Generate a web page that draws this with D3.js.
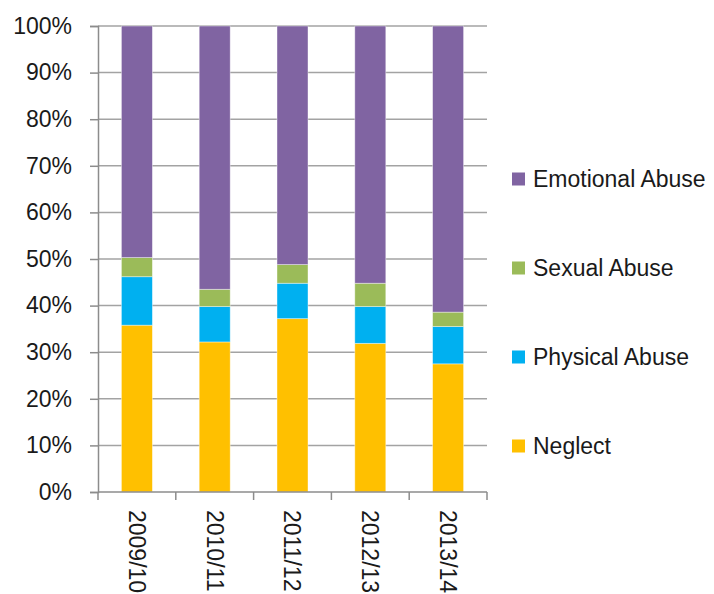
<!DOCTYPE html>
<html>
<head>
<meta charset="utf-8">
<script src="https://cdn.jsdelivr.net/npm/d3@7/dist/d3.min.js"></script>
<style>
  html, body { margin: 0; padding: 0; background: #fff; }
  svg { display: block; font-family: "Liberation Sans", Arial, sans-serif; }
</style>
</head>
<body>
<svg id="chart" width="714" height="594"></svg>
<script>
// Reporting years
const years = ["2009/10", "2010/11", "2011/12", "2012/13", "2013/14"];

// Share of cases by category (percent), stacked bottom to top
const neglect   = [35.8, 32.2, 37.2, 31.9, 27.5];
const physical  = [10.4,  7.6,  7.6,  7.9,  8.0];
const sexual    = [ 4.1,  3.7,  4.0,  5.0,  3.1];
const emotional = [49.7, 56.5, 51.2, 55.2, 61.4];

const seriesNames  = ["Neglect", "Physical Abuse", "Sexual Abuse", "Emotional Abuse"];
const seriesColors = ["#FFC000", "#00B0F0", "#9BBB59", "#8064A2"];

const yTicks = [0, 10, 20, 30, 40, 50, 60, 70, 80, 90, 100];

const rows = years.map((y, i) => ({
  year: y,
  "Neglect": neglect[i],
  "Physical Abuse": physical[i],
  "Sexual Abuse": sexual[i],
  "Emotional Abuse": emotional[i]
}));

const svg = d3.select("#chart");
const plot = { left: 98, right: 487, top: 26, bottom: 492 };

const xBand = d3.scaleBand().domain(years).range([plot.left, plot.right]);
const y = d3.scaleLinear().domain([0, 100]).range([plot.bottom, plot.top]);
const color = d3.scaleOrdinal().domain(seriesNames).range(seriesColors);
const barWidth = 31;

// Horizontal gridlines
svg.append("g")
  .selectAll("line")
  .data(yTicks.filter(t => t > 0))
  .join("line")
  .attr("x1", plot.left).attr("x2", plot.right)
  .attr("y1", d => y(d)).attr("y2", d => y(d))
  .attr("stroke", "#a3a3a3").attr("stroke-width", 1.5);

// Stacked bars
const stack = d3.stack().keys(seriesNames)(rows);
svg.append("g")
  .selectAll("g")
  .data(stack)
  .join("g")
  .attr("fill", d => color(d.key))
  .selectAll("rect")
  .data(d => d)
  .join("rect")
  .attr("x", d => xBand(d.data.year) + (xBand.bandwidth() - barWidth) / 2)
  .attr("width", barWidth)
  .attr("y", d => y(d[1]))
  .attr("height", d => y(d[0]) - y(d[1]))
  .attr("stroke", "rgba(255,255,255,0.5)")
  .attr("stroke-width", 0.8);

// Y axis
const yAxis = svg.append("g")
  .attr("transform", `translate(${plot.left},0)`)
  .call(d3.axisLeft(y).tickValues(yTicks).tickFormat(d => d + "%").tickSizeOuter(0).tickSize(8).tickPadding(18));
yAxis.select(".domain").attr("stroke", "#8c8c8c").attr("stroke-width", 1.5);
yAxis.selectAll(".tick line").attr("stroke", "#8c8c8c").attr("stroke-width", 1.5);
yAxis.selectAll(".tick text")
  .attr("fill", "#1a1a1a")
  .style("font-size", "23px")
  .style("font-family", "'Liberation Sans', Arial, sans-serif");

// X axis with ticks at category boundaries
const xg = svg.append("g").attr("transform", `translate(0,${plot.bottom})`);
xg.append("line")
  .attr("x1", plot.left).attr("x2", plot.right)
  .attr("stroke", "#8c8c8c").attr("stroke-width", 1.5);
const boundaries = years.map(d => xBand(d)).concat([plot.right]);
xg.selectAll("line.tick")
  .data(boundaries)
  .join("line")
  .attr("class", "tick")
  .attr("x1", d => d).attr("x2", d => d)
  .attr("y1", 0).attr("y2", 8)
  .attr("stroke", "#8c8c8c").attr("stroke-width", 1.5);
xg.selectAll("text")
  .data(years)
  .join("text")
  .attr("transform", d => `translate(${xBand(d) + xBand.bandwidth() / 2},18) rotate(90)`)
  .attr("dy", "0.35em")
  .attr("text-anchor", "start")
  .attr("fill", "#1a1a1a")
  .style("font-size", "23px")
  .text(d => d);

// Legend, top to bottom in reverse stack order
const legendItems = seriesNames.slice().reverse();
const legend = svg.append("g")
  .selectAll("g")
  .data(legendItems)
  .join("g")
  .attr("transform", (d, i) => `translate(512,${179 + i * 89})`);
legend.append("rect")
  .attr("x", 0).attr("y", -6.5)
  .attr("width", 13).attr("height", 13)
  .attr("fill", d => color(d));
legend.append("text")
  .attr("x", 21).attr("y", 0).attr("dy", "0.35em")
  .attr("fill", "#1a1a1a")
  .style("font-size", "23px")
  .text(d => d);
</script>
</body>
</html>
